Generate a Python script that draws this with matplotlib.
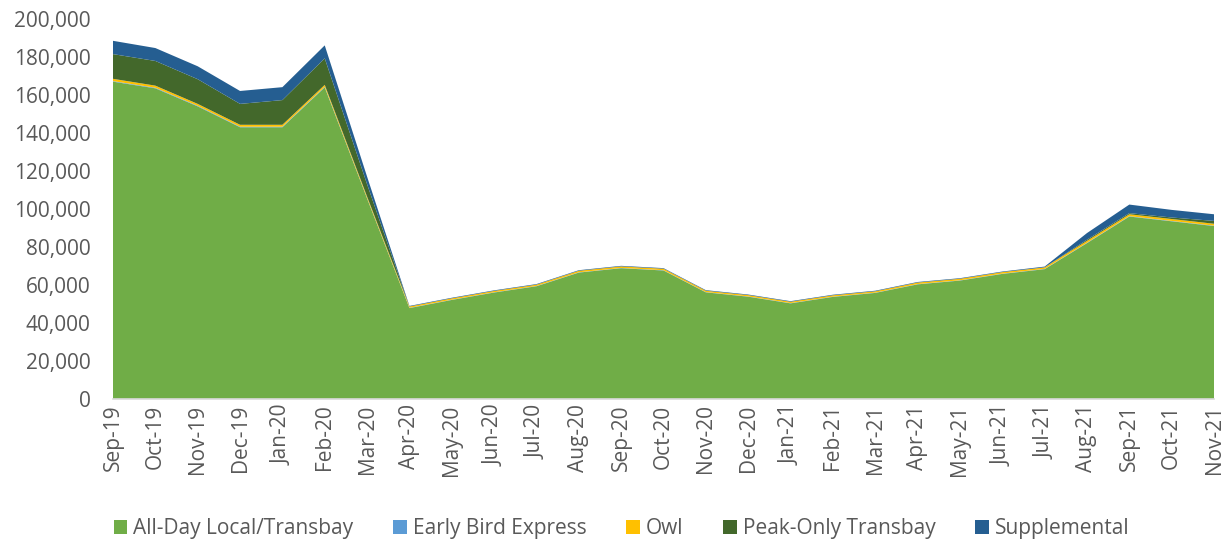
import matplotlib.pyplot as plt
from matplotlib.ticker import FuncFormatter
from matplotlib.patches import Patch

plt.rcParams['font.family'] = ['Open Sans', 'DejaVu Sans']

months = ['Sep-19', 'Oct-19', 'Nov-19', 'Dec-19', 'Jan-20', 'Feb-20', 'Mar-20',
          'Apr-20', 'May-20', 'Jun-20', 'Jul-20', 'Aug-20', 'Sep-20', 'Oct-20',
          'Nov-20', 'Dec-20', 'Jan-21', 'Feb-21', 'Mar-21', 'Apr-21', 'May-21',
          'Jun-21', 'Jul-21', 'Aug-21', 'Sep-21', 'Oct-21', 'Nov-21']

all_day = [167000, 163500, 154000, 143000, 143000, 164000, 105500, 47800, 52100,
           56000, 59300, 66500, 68800, 67600, 56100, 53800, 50300, 53700, 55800,
           60300, 62300, 65800, 68300, 82000, 96000, 93500, 91000]
early_bird = [300, 300, 300, 300, 300, 300, 200, 150, 150, 150, 150, 150, 150, 150,
              150, 150, 150, 150, 150, 150, 150, 150, 150, 200, 200, 200, 200]
owl = [1200, 1100, 1000, 1000, 1000, 1000, 800, 700, 700, 700, 700, 800, 800, 800,
       700, 700, 700, 700, 700, 800, 800, 800, 800, 1000, 1000, 1000, 1000]
peak_only = [13000, 13000, 13000, 11000, 13000, 14000, 6500, 0, 0, 0, 0, 0, 0, 0,
             0, 0, 0, 0, 0, 0, 0, 0, 0, 600, 600, 800, 1500]
supplemental = [7000, 6800, 6800, 6800, 6800, 6800, 4000, 300, 300, 300, 300, 300,
                300, 300, 300, 300, 300, 300, 300, 300, 300, 300, 400, 3500, 4500,
                4000, 3500]

names = ['All-Day Local/Transbay', 'Early Bird Express', 'Owl',
         'Peak-Only Transbay', 'Supplemental']
colors = ['#70AD47', '#5B9BD5', '#FFC000', '#43682B', '#255E91']

fig = plt.figure(figsize=(12.31, 5.42), dpi=100)
ax = fig.add_axes([0.0918, 0.264, 0.8944, 0.701])

x = list(range(len(months)))
ax.stackplot(x, all_day, early_bird, owl, peak_only, supplemental,
             colors=colors, linewidth=0)

ax.set_xlim(0, len(months) - 1)
ax.set_ylim(0, 200000)
ax.set_yticks(range(0, 200001, 20000))
ax.yaxis.set_major_formatter(FuncFormatter(lambda v, p: f'{int(v):,}'))
ax.set_xticks(x)
ax.set_xticklabels(months, rotation=90)
ax.tick_params(axis='both', length=0, labelsize=15, colors='#595959')
ax.tick_params(axis='x', pad=4)
ax.tick_params(axis='y', pad=16)

for s in ['top', 'right', 'left']:
    ax.spines[s].set_visible(False)
ax.spines['bottom'].set_color('#D9D9D9')
ax.spines['bottom'].set_linewidth(1.2)

handles = [Patch(facecolor=c, label=n) for c, n in zip(colors, names)]
fig.legend(handles=handles, loc='center', bbox_to_anchor=(0.505, 0.025), ncol=5,
           frameon=False, fontsize=15, handlelength=0.65, handleheight=0.65,
           handletextpad=0.3, columnspacing=1.9, labelcolor='#595959')

fig.savefig('out.png', dpi=100)
